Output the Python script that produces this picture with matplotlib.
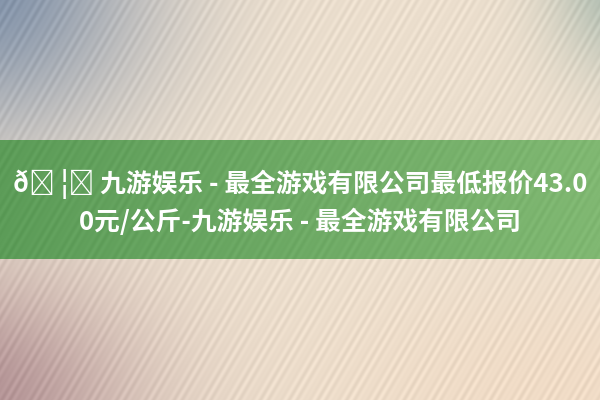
import numpy as np
import matplotlib
matplotlib.use('Agg')
import matplotlib.pyplot as plt

# text lines of the banner
title_lines = ['ð\x9f ¦\x81 九游娱乐 - 最全游戏有限公司最低报价43.0',
               '0元/公斤-九游娱乐 - 最全游戏有限公司']

# colour anchors for the background
base_rgb = [236, 223, 206]
blob_rgb = {'blue': [118, 138, 165], 'teal': [150, 175, 165], 'mauve': [165, 128, 135]}
band_left = [92, 156, 88]
band_right = [128, 184, 114]

W, H = 600, 400
yy, xx = np.mgrid[0:H, 0:W].astype(float)

img = np.ones((H, W, 3)) * np.array(base_rgb) / 255.0


def blend(img, cx, cy, rx, ry, rgb, strength):
    d = ((xx - cx) / rx) ** 2 + ((yy - cy) / ry) ** 2
    w = strength * np.exp(-d)
    return img * (1 - w[..., None]) + (np.array(rgb) / 255.0) * w[..., None]


img = blend(img, -20, -20, 170, 160, blob_rgb['blue'], 0.9)
img = blend(img, 620, -20, 70, 90, blob_rgb['teal'], 0.7)
img = blend(img, -30, 400, 170, 130, blob_rgb['mauve'], 0.8)
img = blend(img, 560, 400, 250, 120, [244, 216, 190], 0.5)

# diagonal brushed strokes
stroke = np.sin((xx * 0.85 + yy * 0.5) * 0.9) * np.sin((xx * 0.85 + yy * 0.5) * 0.13)
img = np.clip(img + 0.035 * stroke[..., None], 0, 1)

# green band
top, bot = 140, 259
t = xx[top:bot] / W
band = (np.array(band_left)[None, None, :] * (1 - t[..., None])
        + np.array(band_right)[None, None, :] * t[..., None]) / 255.0
band = np.clip(band + 0.02 * stroke[top:bot, :, None], 0, 1)
img[top:bot] = band

fig = plt.figure(figsize=(6, 4), dpi=100)
ax = fig.add_axes([0, 0, 1, 1])
ax.imshow(img, extent=[0, W, H, 0], aspect='auto', interpolation='bilinear')
ax.set_xlim(0, W)
ax.set_ylim(H, 0)
ax.axis('off')

fam = ['Noto Sans CJK SC', 'DejaVu Sans']
ax.text(300, 184, title_lines[0], ha='center', va='center', color='white',
        fontsize=18.5, fontweight='bold', family=fam)
ax.text(300, 222, title_lines[1], ha='center', va='center', color='white',
        fontsize=18.5, fontweight='bold', family=fam)

fig.savefig('out.png', dpi=100)
